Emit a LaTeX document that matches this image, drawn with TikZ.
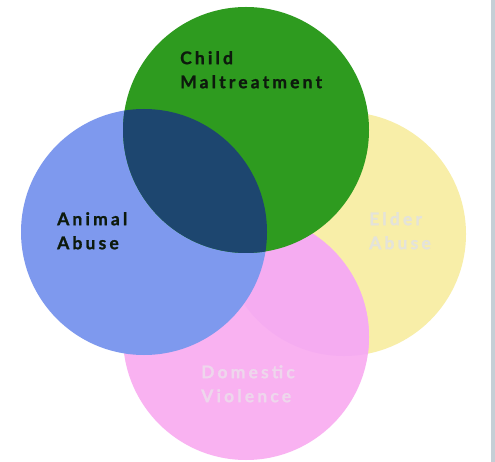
\documentclass[tikz,border=0pt]{standalone}
\usepackage{fontspec}
\newfontfamily\labelfont[LetterSpace=18,FakeBold=1.2]{Lato Bold}
\definecolor{cgreen}{HTML}{2E9B1F}
\definecolor{cblue}{HTML}{7E99EE}
\definecolor{cyellow}{HTML}{F8EEA8}
\definecolor{cpink}{HTML}{F9B2F1}
\definecolor{cpinkov}{HTML}{F5ACF1}
\definecolor{cnavy}{HTML}{1D466F}
\definecolor{cbar}{HTML}{C5CFD6}
\definecolor{darktext}{HTML}{0D1A0D}
\definecolor{lighttext}{HTML}{E4E3DA}
\definecolor{pinktext}{HTML}{EED6EC}
\tikzset{
  setcircle/.style={circle, inner sep=0pt, minimum size=246pt, draw=none},
  setlabel/.style={anchor=north west, inner sep=0pt, align=left,
    font=\labelfont\fontsize{17.5}{24}\selectfont},
}
\begin{document}
\begin{tikzpicture}[x=1pt,y=-1pt]
\useasboundingbox (0,0) rectangle (495,462);
\fill[white] (0,0) rectangle (495,462);
\fill[cbar] (491,0) rectangle (495,462);
% circles
\node[setcircle, fill=cyellow, minimum size=244pt] (elder) at (344,234) {};
\node[setcircle, fill=cpink] (domestic) at (246,337) {};
\begin{scope}
  \clip (344,234) circle (122);
  \fill[cpinkov] (246,337) circle (123);
\end{scope}
\node[setcircle, fill=cblue] (animal) at (144,232) {};
\node[setcircle, fill=cgreen] (child) at (246,130) {};
\begin{scope}
  \clip (144,232) circle (123);
  \fill[cnavy] (246,130) circle (123);
\end{scope}
% labels
\node[setlabel, text=darktext] (childlbl) at (180,51) {Child\\Maltreatment};
\node[setlabel, text=darktext] (animallbl) at (57,212) {Animal\\Abuse};
\node[setlabel, text=lighttext] (elderlbl) at (369,212) {Elder\\Abuse};
\node[setlabel, text=pinktext] (domesticlbl) at (201,365) {Domestic\\Violence};
\end{tikzpicture}
\end{document}
